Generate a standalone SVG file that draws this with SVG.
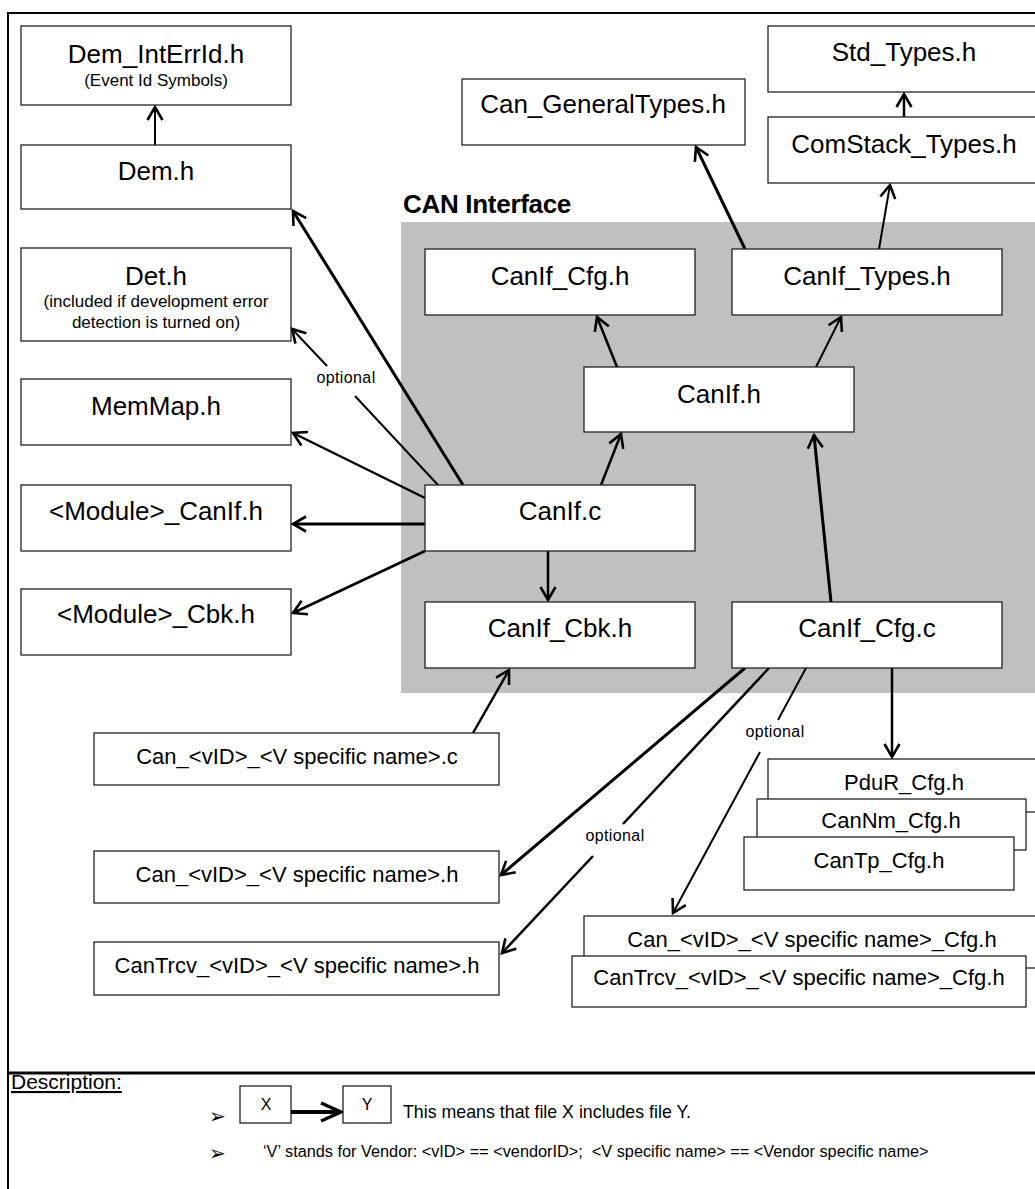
<svg xmlns="http://www.w3.org/2000/svg" width="1035" height="1189" viewBox="0 0 1035 1189">
  <style>
    text { font-family: "Liberation Sans", Arial, sans-serif; fill: #000; }
    .box { fill: #fff; stroke: #222; stroke-width: 1.3; }
    .t26 { font-size: 26px; text-anchor: middle; }
    .t22 { font-size: 22px; text-anchor: middle; }
    .t17 { font-size: 17px; text-anchor: middle; }
    .opt { font-size: 16px; text-anchor: middle; letter-spacing: 0.4px; }
    .bullet { font-family: "DejaVu Sans", sans-serif; font-size: 20px; }
    .ln { fill: none; stroke: #000; stroke-linecap: butt; }
    .w2 { stroke-width: 2; }
    .w25 { stroke-width: 2.5; }
    .w3 { stroke-width: 3; }
    .frame { stroke: #000; fill: none; }
  </style>
  <defs>
    <marker id="ah" markerUnits="userSpaceOnUse" viewBox="-16 -10 18 20" refX="0" refY="0" markerWidth="18" markerHeight="20" orient="auto" overflow="visible">
      <path d="M -13,-7.5 L 0,0 L -13,7.5" fill="none" stroke="#000" stroke-width="2.6" stroke-linejoin="miter"/>
    </marker>
    <marker id="ah-big" markerUnits="userSpaceOnUse" viewBox="-24 -12 26 24" refX="0" refY="0" markerWidth="26" markerHeight="24" orient="auto" overflow="visible">
      <path d="M -20,-9 L 0,0 L -20,9" fill="none" stroke="#000" stroke-width="3.5" stroke-linejoin="miter"/>
    </marker>
  </defs>

  <rect x="0" y="0" width="1035" height="1189" fill="#fff"/>

  <!-- outer frame and legend separator -->
  <g id="frame">
    <line class="frame" x1="8" y1="13" x2="1035" y2="13" stroke-width="2"/>
    <line class="frame" x1="8" y1="12" x2="8" y2="1189" stroke-width="2"/>
    <line class="frame" x1="8" y1="1073" x2="1035" y2="1073" stroke-width="3"/>
  </g>

  <!-- CAN Interface area -->
  <g id="can-interface">
    <rect x="401" y="222" width="634" height="471" fill="#c0c0c0"/>
    <text x="403" y="213" style="font-size:26px;font-weight:bold;letter-spacing:-0.3px">CAN Interface</text>
  </g>

  <!-- connectors -->
  <g id="connectors">
    <line class="ln w2" x1="155" y1="145" x2="155" y2="107" marker-end="url(#ah)"/>
    <line class="ln w3" x1="463" y1="485" x2="293" y2="211" marker-end="url(#ah)"/>
    <line class="ln w2" x1="438" y1="485" x2="355" y2="396"/>
    <line class="ln w2" x1="327" y1="366" x2="292" y2="329" marker-end="url(#ah)"/>
    <line class="ln w25" x1="425" y1="498" x2="293" y2="433" marker-end="url(#ah)"/>
    <line class="ln w3" x1="425" y1="524" x2="293" y2="524" marker-end="url(#ah)"/>
    <line class="ln w25" x1="425" y1="551" x2="293" y2="613" marker-end="url(#ah)"/>
    <line class="ln w25" x1="601" y1="485" x2="621" y2="434" marker-end="url(#ah)"/>
    <line class="ln w25" x1="548" y1="551" x2="548" y2="600" marker-end="url(#ah)"/>
    <line class="ln w25" x1="617" y1="367" x2="597" y2="317" marker-end="url(#ah)"/>
    <line class="ln w2" x1="816" y1="367" x2="841" y2="317" marker-end="url(#ah)"/>
    <line class="ln w3" x1="745" y1="249" x2="696" y2="147" marker-end="url(#ah)"/>
    <line class="ln w2" x1="879" y1="249" x2="890" y2="185" marker-end="url(#ah)"/>
    <line class="ln w25" x1="904" y1="117" x2="904" y2="94" marker-end="url(#ah)"/>
    <line class="ln w3" x1="831" y1="602" x2="814" y2="435" marker-end="url(#ah)"/>
    <line class="ln w25" x1="473" y1="733" x2="509" y2="670" marker-end="url(#ah)"/>
    <line class="ln w3" x1="745" y1="668" x2="501" y2="875" marker-end="url(#ah)"/>
    <line class="ln w25" x1="769" y1="668" x2="623" y2="824"/>
    <line class="ln w25" x1="593" y1="856" x2="502" y2="953" marker-end="url(#ah)"/>
    <line class="ln w2" x1="806" y1="668" x2="778" y2="720"/>
    <line class="ln w2" x1="760" y1="752" x2="673" y2="913" marker-end="url(#ah)"/>
    <line class="ln w25" x1="892" y1="668" x2="892" y2="757" marker-end="url(#ah)"/>
    <text class="opt" x="346" y="383">optional</text>
    <text class="opt" x="615" y="841">optional</text>
    <text class="opt" x="775" y="737">optional</text>
  </g>

  <!-- headers outside the CAN Interface -->
  <g id="dem-interrid">
    <rect class="box" x="21" y="26" width="270" height="79"/>
    <text class="t26" x="156" y="63">Dem_IntErrId.h</text>
    <text class="t17" x="156" y="86">(Event Id Symbols)</text>
  </g>
  <g id="dem">
    <rect class="box" x="21" y="145" width="270" height="64"/>
    <text class="t26" x="156" y="180">Dem.h</text>
  </g>
  <g id="det">
    <rect class="box" x="21" y="248" width="270" height="93"/>
    <text class="t26" x="156" y="285">Det.h</text>
    <text class="t17" x="156" y="307">(included if development error</text>
    <text class="t17" x="156" y="328">detection is turned on)</text>
  </g>
  <g id="memmap">
    <rect class="box" x="21" y="379" width="270" height="66"/>
    <text class="t26" x="156" y="415">MemMap.h</text>
  </g>
  <g id="module-canif">
    <rect class="box" x="21" y="485" width="270" height="66"/>
    <text class="t26" x="156" y="520">&lt;Module&gt;_CanIf.h</text>
  </g>
  <g id="module-cbk">
    <rect class="box" x="21" y="589" width="270" height="66"/>
    <text class="t26" x="156" y="623">&lt;Module&gt;_Cbk.h</text>
  </g>
  <g id="can-generaltypes">
    <rect class="box" x="462" y="79" width="283" height="66"/>
    <text class="t26" x="603" y="113">Can_GeneralTypes.h</text>
  </g>
  <g id="std-types">
    <rect class="box" x="768" y="26" width="272" height="66"/>
    <text class="t26" x="904" y="61">Std_Types.h</text>
  </g>
  <g id="comstack-types">
    <rect class="box" x="768" y="117" width="272" height="66"/>
    <text class="t26" x="904" y="153">ComStack_Types.h</text>
  </g>

  <!-- CAN Interface files -->
  <g id="canif-cfg-h">
    <rect class="box" x="425" y="249" width="270" height="66"/>
    <text class="t26" x="560" y="285">CanIf_Cfg.h</text>
  </g>
  <g id="canif-types">
    <rect class="box" x="732" y="249" width="270" height="66"/>
    <text class="t26" x="867" y="285">CanIf_Types.h</text>
  </g>
  <g id="canif-h">
    <rect class="box" x="584" y="367" width="270" height="65"/>
    <text class="t26" x="719" y="403">CanIf.h</text>
  </g>
  <g id="canif-c">
    <rect class="box" x="425" y="485" width="270" height="66"/>
    <text class="t26" x="560" y="520">CanIf.c</text>
  </g>
  <g id="canif-cbk">
    <rect class="box" x="425" y="602" width="270" height="66"/>
    <text class="t26" x="560" y="637">CanIf_Cbk.h</text>
  </g>
  <g id="canif-cfg-c">
    <rect class="box" x="732" y="602" width="270" height="66"/>
    <text class="t26" x="867" y="637">CanIf_Cfg.c</text>
  </g>

  <!-- vendor specific driver files -->
  <g id="can-vendor-c">
    <rect class="box" x="94" y="733" width="405" height="52"/>
    <text class="t22" x="297" y="764">Can_&lt;vID&gt;_&lt;V specific name&gt;.c</text>
  </g>
  <g id="can-vendor-h">
    <rect class="box" x="94" y="851" width="405" height="52"/>
    <text class="t22" x="297" y="882">Can_&lt;vID&gt;_&lt;V specific name&gt;.h</text>
  </g>
  <g id="cantrcv-vendor-h">
    <rect class="box" x="94" y="942" width="405" height="53"/>
    <text class="t22" x="297" y="973">CanTrcv_&lt;vID&gt;_&lt;V specific name&gt;.h</text>
  </g>

  <!-- upper layer configuration headers (stacked) -->
  <g id="pdur-cfg">
    <rect class="box" x="768" y="759" width="272" height="53"/>
    <text class="t22" x="904" y="790">PduR_Cfg.h</text>
  </g>
  <g id="cannm-cfg">
    <rect class="box" x="757" y="799" width="269" height="51"/>
    <text class="t22" x="891" y="828">CanNm_Cfg.h</text>
  </g>
  <g id="cantp-cfg">
    <rect class="box" x="744" y="837" width="270" height="53"/>
    <text class="t22" x="879" y="868">CanTp_Cfg.h</text>
  </g>

  <!-- vendor specific configuration headers (stacked) -->
  <g id="can-vendor-cfg">
    <rect class="box" x="584" y="916" width="456" height="52"/>
    <text class="t22" x="812" y="947">Can_&lt;vID&gt;_&lt;V specific name&gt;_Cfg.h</text>
  </g>
  <g id="cantrcv-vendor-cfg">
    <rect class="box" x="572" y="956" width="454" height="51"/>
    <text class="t22" x="799" y="985">CanTrcv_&lt;vID&gt;_&lt;V specific name&gt;_Cfg.h</text>
  </g>

  <!-- legend -->
  <g id="legend">
    <text x="11" y="1089" style="font-size:21px;text-decoration:underline">Description:</text>
    <text class="bullet" x="209" y="1123">➢</text>
    <rect class="box" x="240" y="1086" width="51" height="37"/>
    <text x="266" y="1110" style="font-size:16px;text-anchor:middle">X</text>
    <line x1="291" y1="1112" x2="341" y2="1112" stroke="#000" stroke-width="4" marker-end="url(#ah-big)"/>
    <rect class="box" x="343" y="1086" width="48" height="37"/>
    <text x="367" y="1110" style="font-size:16px;text-anchor:middle">Y</text>
    <text x="403" y="1118" style="font-size:17.8px">This means that file X includes file Y.</text>
    <text class="bullet" x="209" y="1160">➢</text>
    <text x="263" y="1157" style="font-size:16.3px;white-space:pre">‘V’ stands for Vendor: &lt;vID&gt; == &lt;vendorID&gt;;  &lt;V specific name&gt; == &lt;Vendor specific name&gt;</text>
  </g>
</svg>
